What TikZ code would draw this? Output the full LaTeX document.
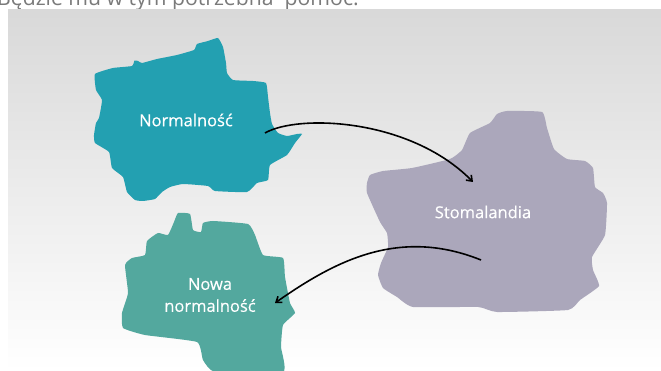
\documentclass[tikz,border=0pt]{standalone}
\usepackage{fontspec}
\setmainfont[FakeBold=0.35]{Open Sans}
\newfontfamily\topfont{Open Sans}
\usetikzlibrary{arrows.meta}
\definecolor{teal1}{HTML}{23A0B1}
\definecolor{teal2}{HTML}{53A89E}
\definecolor{lilac}{HTML}{ABA7BB}
\definecolor{topgrey}{HTML}{7A7A7A}
\tikzset{
  land/.style={draw=none},
  lbl/.style={text=white,font=\fontsize{16.5}{22}\selectfont,align=center,inner sep=0pt},
  conn/.style={draw=black,line width=1.6pt,-{Straight Barb[length=5pt,width=7.5pt]}}
}
\begin{document}
\begin{tikzpicture}[x=1pt,y=-1pt]
\useasboundingbox (0,0) rectangle (661,371);
\begin{scope}
\clip (0,0) rectangle (661,371);
\node[anchor=base west,inner sep=0pt,text=topgrey,font=\topfont\fontsize{21.2}{24}\selectfont] (head) at (-3,5.5) {Będzie mu w tym potrzebna\ \ pomoc.};
\shade[top color=white!85!black,bottom color=white,shading angle=0] (8,10) rectangle (661,371);
\fill[teal1,land] plot[smooth cycle,tension=0.25] coordinates {
(95,74)(113,68)(132,66)(134.5,60.5)(138,61)(142,63)(157,59)(177,55)(194,50)(197,44)(208,41)(218,38)(223,47)(226,63)(227,73)(233,80)(253,81)(266,83)(268,97)(270,113)(272,124)(278,133)(287,136)(297,134)(302,134)(295,143)(287,155)(270,165)(268,180)(257,183)(247,192)(215,191)(208,186)(183,184)(170,187)(162,192)(155,199)(143,201)(135,200)(127,192)(123,177)(112,168)(109,152)(95,143)(94,135)(96,123)(99,118)(102,100)(96,90)};
\fill[lilac,land] plot[smooth cycle,tension=0.25] coordinates {
(367,183)(370,175)(383,171)(412,168)(450,159)(462,150)(470,133)(490,123)(497,114)(507,111)(542,112)(547,128)(554,149)(567,159)(585,161)(593,168)(595,187)(603,193)(607,203)(605,235)(592,257)(593,270)(599,286)(580,300)(568,310)(497,312)(478,307)(413,307)(397,297)(383,288)(378,275)(381,263)(388,247)(387,233)(380,222)(367,193)};
\fill[teal2,land] plot[smooth cycle,tension=0.25] coordinates {
(125,265)(132,258)(145,255)(147,241)(158,233)(168,235)(174,222)(178,213)(190,214)(193,230)(201,232)(203,223)(213,221)(248,224)(255,235)(263,255)(283,258)(285,277)(290,303)(295,313)(283,325)(281,347)(283,372)(215,372)(203,360)(197,342)(145,335)(123,328)(122,313)(128,293)};
\node[lbl] (norm) at (186,120) {Normalność};
\node[lbl] (stoma) at (483,212) {Stomalandia};
\node[lbl] (nowa) at (210,295) {Nowa\\normalność};
\coordinate (a1s) at (265,133);
\coordinate (a1e) at (473,182);
\coordinate (a2s) at (481,260);
\coordinate (a2e) at (275,303);
\draw[conn] (a1s) .. controls (298,114) and (410,118) .. (a1e);
\draw[conn] (a2s) .. controls (399,227) and (335,261) .. (a2e);
\end{scope}
\end{tikzpicture}
\end{document}
